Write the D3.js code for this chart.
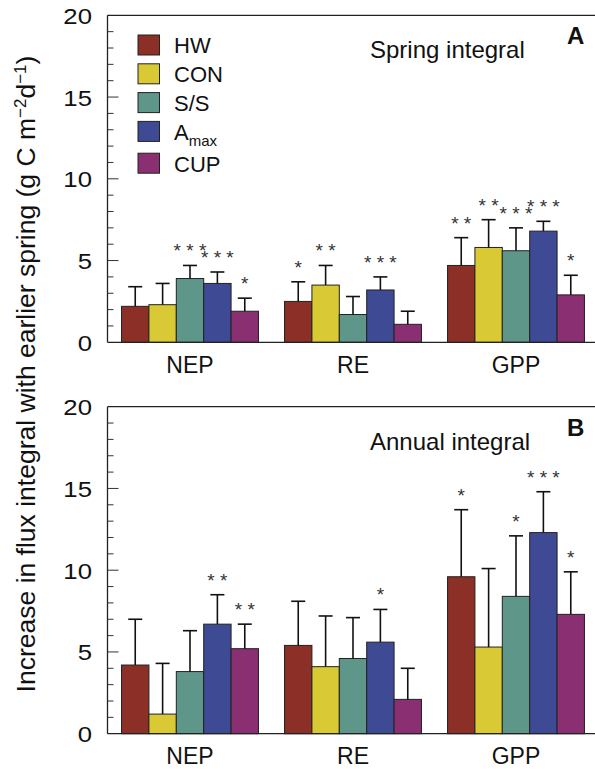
<!DOCTYPE html>
<html>
<head>
<meta charset="utf-8">
<script src="https://cdn.jsdelivr.net/npm/d3@7"></script>
<style>
  body { margin: 0; background: #fff; }
  svg text { font-family: "Liberation Sans", Arial, Helvetica, sans-serif; fill: #111; }
</style>
</head>
<body>
<svg id="chart" width="595" height="769"></svg>
<script>
const groups = ['NEP', 'RE', 'GPP'];
const series = ['HW', 'CON', 'S/S', 'Amax', 'CUP'];
const colors = ['#8b2f27', '#d8c935', '#5f968a', '#3f4a94', '#8a2f72'];

// spring integral (panel A), one row per group, one value per series
const springVals = [[2.2, 2.3, 3.9, 3.6, 1.9], [2.5, 3.5, 1.7, 3.2, 1.1], [4.7, 5.8, 5.6, 6.8, 2.9]];
const springErr  = [[1.2, 1.3, 0.8, 0.7, 0.8], [1.2, 1.2, 1.1, 0.8, 0.8], [1.7, 1.7, 1.4, 0.6, 1.2]];
const springSig  = [['', '', '***', '***', '*'], ['*', '**', '', '***', ''], ['**', '**', '***', '***', '*']];

// annual integral (panel B)
const annualVals = [[4.2, 1.2, 3.8, 6.7, 5.2], [5.4, 4.1, 4.6, 5.6, 2.1], [9.6, 5.3, 8.4, 12.3, 7.3]];
const annualErr  = [[2.8, 3.1, 2.5, 1.8, 1.5], [2.7, 3.1, 2.5, 2.0, 1.9], [4.1, 4.8, 3.7, 2.5, 2.6]];
const annualSig  = [['', '', '', '**', '**'], ['', '', '', '*', ''], ['*', '', '*', '***', '*']];

const yTicks = [0, 5, 10, 15, 20];

const svg = d3.select('#chart');
const left = 107.5, right = 595;
const panelH = 327;

const x0 = d3.scaleBand().domain(groups).range([108.5, 597.5]).paddingInner(0.16).paddingOuter(0.08);
const x1 = d3.scaleBand().domain(series).range([0, x0.bandwidth()]);

function drawPanel(top, vals, errs, sig, title, letter){
  const g = svg.append('g');
  const y = d3.scaleLinear().domain([0, 20]).range([top + panelH, top]);

  // bars
  groups.forEach((grp, gi)=>{
    const gg = g.append('g').attr('transform', `translate(${x0(grp)},0)`);
    const data = series.map((s, si)=>({s, si, v: vals[gi][si], e: errs[gi][si], star: sig[gi][si]}));
    gg.selectAll('rect').data(data).enter().append('rect')
      .attr('x', d=>x1(d.s))
      .attr('y', d=>y(d.v))
      .attr('width', x1.bandwidth())
      .attr('height', d=>y(0)-y(d.v))
      .attr('fill', d=>colors[d.si])
      .attr('stroke', '#222')
      .attr('stroke-width', 1);
    const eb = gg.selectAll('g.err').data(data).enter().append('g').attr('class','err');
    eb.append('line')
      .attr('x1', d=>x1(d.s)+x1.bandwidth()/2).attr('x2', d=>x1(d.s)+x1.bandwidth()/2)
      .attr('y1', d=>y(d.v)).attr('y2', d=>y(d.v+d.e))
      .attr('stroke', '#111').attr('stroke-width', 1.6);
    eb.append('line')
      .attr('x1', d=>x1(d.s)+x1.bandwidth()/2-7).attr('x2', d=>x1(d.s)+x1.bandwidth()/2+7)
      .attr('y1', d=>y(d.v+d.e)).attr('y2', d=>y(d.v+d.e))
      .attr('stroke', '#111').attr('stroke-width', 1.6);
    gg.selectAll('text.star').data(data.filter(d=>d.star)).enter().append('text')
      .attr('class','star')
      .attr('x', d=>x1(d.s)+x1.bandwidth()/2)
      .attr('y', d=>y(d.v+d.e)-8)
      .attr('text-anchor','middle')
      .style('font-size','19px')
      .style('fill','#333')
      .text(d=>d.star.split('').join(' '));
  });

  // frame: left axis, top and bottom lines
  g.append('line').attr('x1', left).attr('x2', right).attr('y1', y(0)).attr('y2', y(0)).attr('stroke','#222').attr('stroke-width',1.3);
  g.append('line').attr('x1', left).attr('x2', right).attr('y1', y(20)).attr('y2', y(20)).attr('stroke','#222').attr('stroke-width',1.3);
  g.append('line').attr('x1', left).attr('x2', left).attr('y1', y(0)).attr('y2', y(20)).attr('stroke','#222').attr('stroke-width',1.3);

  // inward ticks, minor every unit
  g.selectAll('line.minor').data(d3.range(1, 20)).enter().append('line')
    .attr('x1', left).attr('x2', d=> d%5===0 ? left+11 : left+6)
    .attr('y1', d=>y(d)).attr('y2', d=>y(d))
    .attr('stroke','#333').attr('stroke-width',1);

  // tick labels are set a little wide, like the original
  g.selectAll('text.tick').data(yTicks).enter().append('text')
    .attr('transform', d=>`translate(92,${y(d)+8.5}) scale(1.12,1)`)
    .attr('text-anchor','end')
    .style('font-size','23px')
    .text(d=>d);

  g.selectAll('text.grp').data(groups).enter().append('text')
    .attr('x', d=>x0(d)+x0.bandwidth()/2)
    .attr('y', top+panelH+30.5)
    .attr('text-anchor','middle')
    .style('font-size','23px')
    .text(d=>d);

  g.append('text').attr('x', 370).attr('y', top+43).style('font-size','24px').text(title);
  g.append('text').attr('x', 567).attr('y', top+29).style('font-size','24px').style('font-weight','bold').text(letter);
  return y;
}

drawPanel(15.3, springVals, springErr, springSig, 'Spring integral', 'A');
drawPanel(406.7, annualVals, annualErr, annualSig, 'Annual integral', 'B');

// legend
const leg = svg.append('g').attr('transform','translate(138,35)');
series.forEach((s, i)=>{
  const yy = i*28.8 + (i===4 ? 3 : 0);
  leg.append('rect').attr('x',0).attr('y',yy).attr('width',21.5).attr('height',20)
    .attr('fill',colors[i]).attr('stroke','#222').attr('stroke-width',1);
  const t = leg.append('text').attr('x',36).attr('y',yy+18.3).style('font-size','22px');
  if(s==='Amax'){
    t.append('tspan').text('A');
    t.append('tspan').attr('dy',6).style('font-size','15px').text('max');
  } else {
    t.text(s);
  }
});

// y axis title
const yt = svg.append('text')
  .attr('transform','translate(35,374) rotate(-90)')
  .attr('text-anchor','middle')
  .style('font-size','26.5px');
yt.append('tspan').text('Increase in flux integral with earlier spring (g C m');
yt.append('tspan').attr('dy',-9).style('font-size','17px').text('\u22122');
yt.append('tspan').attr('dy',9).text('d');
yt.append('tspan').attr('dy',-9).style('font-size','17px').text('\u22121');
yt.append('tspan').attr('dy',9).text(')');
</script>
</body>
</html>
